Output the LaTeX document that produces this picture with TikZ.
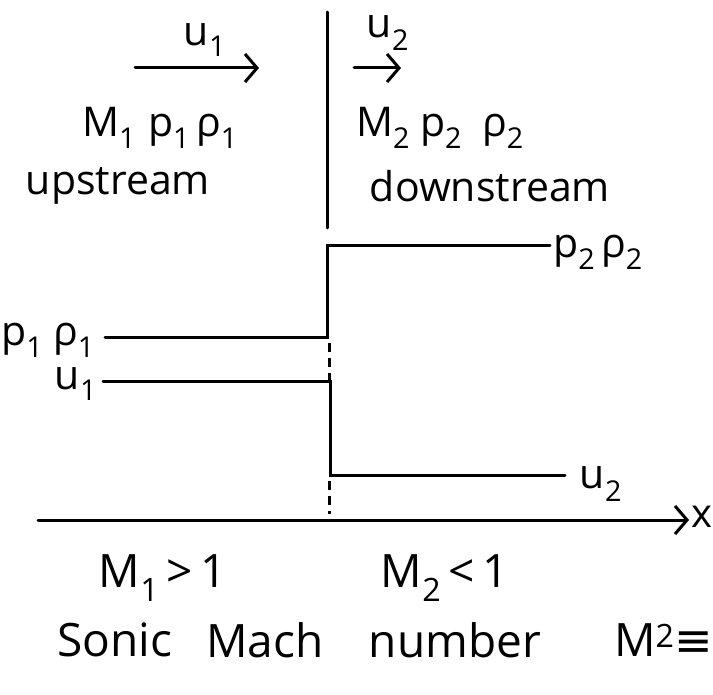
\documentclass[tikz,border=0pt]{standalone}
\usepackage{fontspec}
\setmainfont{Open Sans}
\newfontfamily\symfont{DejaVu Sans}
\usetikzlibrary{arrows.meta}
\newcommand\sbs[1]{\textsubscript{#1}}
\tikzset{
  hand/.style={inner sep=0pt, font=\fontsize{41}{44}\selectfont},
  big/.style={inner sep=0pt, font=\fontsize{46}{50}\selectfont},
  stroke/.style={line width=3pt, line cap=round, line join=miter},
  barb/.style={-{Straight Barb[length=12pt,width=28pt,line width=3pt]}},
  dashline/.style={line width=3pt, dash pattern=on 9pt off 6pt}
}
\begin{document}
\begin{tikzpicture}[x=1pt,y=-1pt]
\clip (0,0) rectangle (713,695);
\fill[white] (0,0) rectangle (713,695);
% shock line
\coordinate (shockTop) at (327,12);
\coordinate (shockBot) at (327,228);
\draw[stroke] (shockTop) -- (shockBot);
% upstream side
\node[hand] (u1top) at (205,40) {u\sbs{1}};
\coordinate (a1s) at (135,68);
\coordinate (a1e) at (259,68);
\draw[stroke,barb] (a1s) -- (a1e);
\node[hand] (m1) at (160,128) {M\sbs{1}\hspace{12pt}p\sbs{1}\hspace{6pt}ρ\sbs{1}};
\node[hand] (up) at (118,186) {upstream};
% downstream side
\node[hand] (u2top) at (388,33) {u\sbs{2}};
\coordinate (a2s) at (354,68);
\coordinate (a2e) at (401,68);
\draw[stroke,barb] (a2s) -- (a2e);
\node[hand] (m2) at (440,128) {M\sbs{2}\hspace{10pt}p\sbs{2}\hspace{20pt}ρ\sbs{2}};
\node[hand] (down) at (490,186) {downstream};
% graph
\coordinate (p1s) at (105,338);
\coordinate (p1e) at (327,338);
\coordinate (p2s) at (327,246);
\coordinate (p2e) at (550,246);
\coordinate (u1s) at (103,382);
\coordinate (u1e) at (330,382);
\coordinate (u2s) at (330,475);
\coordinate (u2e) at (565,475);
\draw[stroke] (p1s) -- (p1e) -- (p2s) -- (p2e);
\draw[stroke] (u1s) -- (u1e) -- (u2s) -- (u2e);
\coordinate (d1s) at (329,343);
\coordinate (d1e) at (329,382);
\coordinate (d2s) at (329,481);
\coordinate (d2e) at (329,514);
\draw[dashline] (d1s) -- (d1e);
\draw[dashline] (d2s) -- (d2e);
\node[hand] (p2lab) at (598,252) {p\sbs{2}\hspace{6pt}ρ\sbs{2}};
\node[hand] (p1lab) at (48,340) {p\sbs{1}\hspace{10pt}ρ\sbs{1}};
\node[hand] (u1lab) at (76,384) {u\sbs{1}};
\node[hand] (u2lab) at (601,484) {u\sbs{2}};
% axis
\coordinate (axs) at (38,520);
\coordinate (axe) at (689,520);
\draw[stroke,barb] (axs) -- (axe);
\node[inner sep=0pt, font=\fontsize{40}{42}\selectfont, anchor=west] (xlab) at (691,517) {x};
% bottom
\node[big] (m1gt) at (163,578) {M\sbs{1}\,>\,1};
\node[big] (m2lt) at (445,578) {M\sbs{2}\,<\,1};
\node[big] (w1) at (115,640) {Sonic};
\node[big] (w2) at (265,640) {Mach};
\node[big] (w3) at (455,640) {number};
\node[big,anchor=west] (w4) at (614,640) {M\textsuperscript{2}{\symfont ≡}};
\end{tikzpicture}
\end{document}
